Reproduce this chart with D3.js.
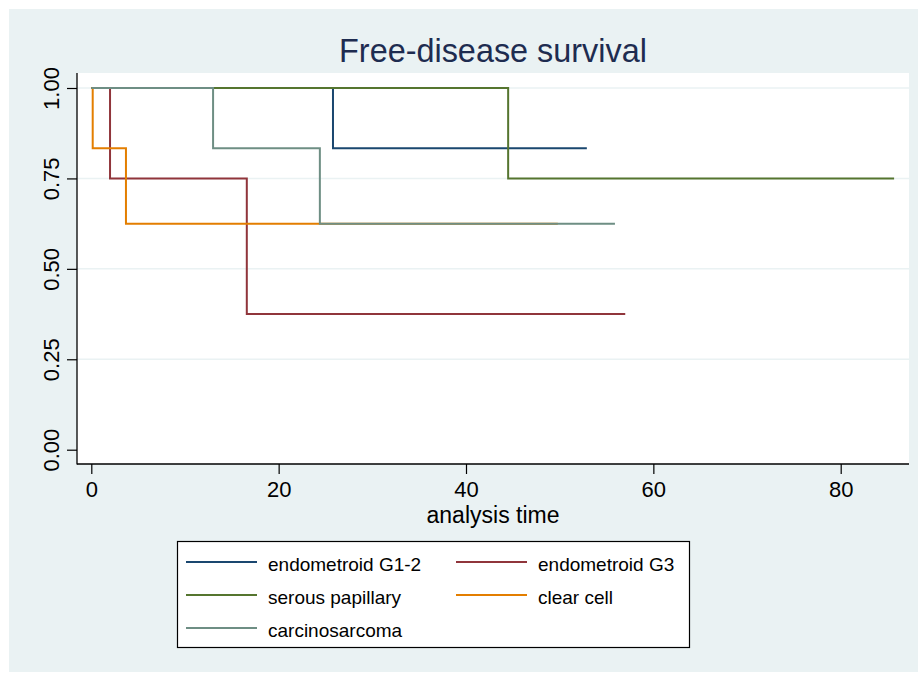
<!DOCTYPE html>
<html>
<head>
<meta charset="utf-8">
<script src="https://cdn.jsdelivr.net/npm/d3@7"></script>
<style>
  body { margin: 0; background: #fff; }
  text { font-family: "Liberation Sans", Arial, Helvetica, sans-serif; }
</style>
</head>
<body>
<svg id="km" width="918" height="675"></svg>
<script>
// Kaplan-Meier step data (time, survival)
const groups = ["endometroid G1-2", "endometroid G3", "serous papillary", "clear cell", "carcinosarcoma"];
const colors = ["#1A476F", "#90353B", "#55752F", "#E37E00", "#6E8E84"];

const timesG12 = [0, 25.8, 52.9];
const survG12 = [1, 0.8333, 0.8333];
const timesG3 = [0, 2.0, 16.6, 57.0];
const survG3 = [1, 0.75, 0.375, 0.375];
const timesSerous = [0, 44.5, 85.7];
const survSerous = [1, 0.75, 0.75];
const timesClear = [0, 0.15, 3.7, 49.8];
const survClear = [1, 0.8333, 0.625, 0.625];
const timesCarcino = [0, 13.0, 24.4, 55.9];
const survCarcino = [1, 0.8333, 0.625, 0.625];

const xTicks = [0, 20, 40, 60, 80];
const yTicks = [0, 0.25, 0.5, 0.75, 1];

const series = [
  [timesG12, survG12],
  [timesG3, survG3],
  [timesSerous, survSerous],
  [timesClear, survClear],
  [timesCarcino, survCarcino]
].map((s, i) => ({
  name: groups[i],
  color: colors[i],
  pts: s[0].map((t, j) => ({ t: t, s: s[1][j] }))
}));

var svg = d3.select('#km');

// graph region
svg.append('rect')
  .attr('x', 9).attr('y', 9)
  .attr('width', 909).attr('height', 663)
  .attr('fill', '#EAF2F3');

var pLeft = 77, pRight = 909, pTop = 73, pBottom = 464;

svg.append('rect')
  .attr('x', pLeft).attr('y', pTop)
  .attr('width', pRight - pLeft).attr('height', pBottom - pTop)
  .attr('fill', '#fff');

var x = d3.scaleLinear().domain([0, 80]).range([91.3, 840.7]);
var y = d3.scaleLinear().domain([0, 1]).range([449.7, 88]);

// gridlines
svg.append('g').selectAll('line')
  .data(yTicks.filter(d => d > 0))
  .enter().append('line')
  .attr('x1', pLeft).attr('x2', pRight)
  .attr('y1', d => y(d)).attr('y2', d => y(d))
  .attr('stroke', '#EAF2F3')
  .attr('stroke-width', 1.5);

// step curves
var line = d3.line()
  .x(d => x(d.t))
  .y(d => y(d.s))
  .curve(d3.curveStepAfter);

svg.append('g').selectAll('path')
  .data(series)
  .enter().append('path')
  .attr('d', d => line(d.pts))
  .attr('fill', 'none')
  .attr('stroke', d => d.color)
  .attr('stroke-width', 2);

// axes
var yAxis = svg.append('g')
  .attr('transform', 'translate(' + pLeft + ',0)')
  .call(d3.axisLeft(y).tickValues(yTicks).tickSize(10).tickPadding(0).tickFormat(d3.format('.2f')));
yAxis.select('.domain').remove();
yAxis.selectAll('line').attr('stroke', '#000').attr('stroke-width', 1.2);
yAxis.selectAll('text')
  .attr('font-size', 22)
  .attr('fill', '#000')
  .attr('x', 0).attr('y', 0).attr('dy', 0)
  .attr('text-anchor', 'middle')
  .attr('transform', 'translate(' + (58.5 - pLeft) + ',0) rotate(-90)');

var xAxis = svg.append('g')
  .attr('transform', 'translate(0,' + pBottom + ')')
  .call(d3.axisBottom(x).tickValues(xTicks).tickSize(10).tickPadding(0));
xAxis.select('.domain').remove();
xAxis.selectAll('line').attr('stroke', '#000').attr('stroke-width', 1.2);
xAxis.selectAll('text')
  .attr('font-size', 22)
  .attr('fill', '#000')
  .attr('dy', 0)
  .attr('y', 33);

svg.append('line')
  .attr('x1', pLeft).attr('x2', pLeft)
  .attr('y1', pTop).attr('y2', pBottom + 0.6)
  .attr('stroke', '#000').attr('stroke-width', 1.3);
svg.append('line')
  .attr('x1', pLeft).attr('x2', pRight)
  .attr('y1', pBottom).attr('y2', pBottom)
  .attr('stroke', '#000').attr('stroke-width', 1.3);

// titles
svg.append('text')
  .attr('x', (pLeft + pRight) / 2).attr('y', 61.5)
  .attr('text-anchor', 'middle')
  .attr('font-size', 32.4)
  .attr('fill', '#1E2C50')
  .text('Free-disease survival');

svg.append('text')
  .attr('x', (pLeft + pRight) / 2).attr('y', 522.5)
  .attr('text-anchor', 'middle')
  .attr('font-size', 23)
  .attr('fill', '#000')
  .text('analysis time');

// legend
var legend = svg.append('g');
legend.append('rect')
  .attr('x', 177.5).attr('y', 541.5)
  .attr('width', 512).attr('height', 106)
  .attr('fill', '#fff')
  .attr('stroke', '#000')
  .attr('stroke-width', 1.2);

var items = legend.selectAll('g.item')
  .data(series)
  .enter().append('g')
  .attr('class', 'item')
  .attr('transform', (d, i) => 'translate(' + (i % 2 ? 456 : 186) + ',' + (562 + Math.floor(i / 2) * 33) + ')');

items.append('line')
  .attr('x1', 0).attr('x2', 71)
  .attr('y1', 0).attr('y2', 0)
  .attr('stroke', d => d.color)
  .attr('stroke-width', 2);

items.append('text')
  .attr('x', 82).attr('y', 8.5)
  .attr('font-size', 19)
  .attr('fill', '#000')
  .text(d => d.name);
</script>
</body>
</html>
